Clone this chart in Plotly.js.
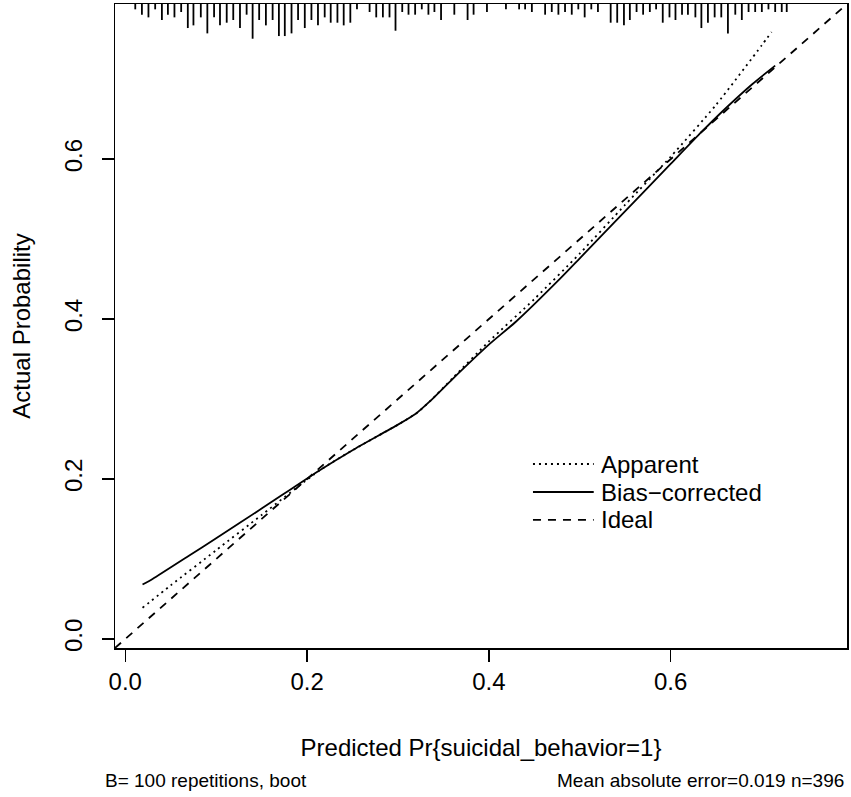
<!DOCTYPE html>
<html>
<head>
<meta charset="utf-8">
<script src="https://cdn.plot.ly/plotly-3.0.1.min.js"></script>
<style>html,body{margin:0;padding:0;background:#fff;}</style>
</head>
<body>
<div id="chart" style="width:851px;height:797px;"></div>
<script>
// ---- data ----
const axisRange = [-0.0113, 0.794];

const apparentX = [0.019, 0.05, 0.10, 0.15, 0.214, 0.25, 0.30, 0.32, 0.335, 0.36, 0.40, 0.45, 0.50, 0.55, 0.60, 0.65, 0.70, 0.711];
const apparentY = [0.039, 0.067, 0.111, 0.155, 0.211, 0.236, 0.268, 0.282, 0.297, 0.326, 0.372, 0.425, 0.482, 0.543, 0.603, 0.668, 0.742, 0.759];

const biasX = [0.019, 0.03, 0.07, 0.10, 0.15, 0.214, 0.25, 0.30, 0.32, 0.335, 0.36, 0.40, 0.43, 0.477, 0.50, 0.55, 0.60, 0.634, 0.66, 0.69, 0.715];
const biasY = [0.068, 0.075, 0.104, 0.126, 0.163, 0.211, 0.236, 0.268, 0.282, 0.297, 0.325, 0.368, 0.397, 0.449, 0.476, 0.535, 0.594, 0.634, 0.663, 0.694, 0.717];

// rug: predicted-value positions and their frequencies
const rugX = [0.0110,0.0183,0.0255,0.0329,0.0403,0.0469,0.0541,0.0615,0.0688,0.0750,0.0831,0.0903,0.0977,0.1042,0.1116,0.1188,0.1262,0.1335,0.1401,0.1473,0.1547,0.1621,0.1690,0.1755,0.1829,0.1901,0.1975,0.2048,0.2120,0.2194,
  0.2260,0.2334,0.2403,0.2476,0.2549,0.2688,0.2761,0.2834,0.2907,0.2973,0.3047,0.3116,0.3189,0.3262,0.3335,0.3401,0.3474,0.3620,0.3766,0.3832,0.3979,0.4188,0.4333,
  0.4399,0.4473,0.4619,0.4692,0.4765,0.4838,0.4912,0.4984,0.5054,0.5127,0.5200,0.5340,0.5412,0.5486,0.5551,0.5625,0.5697,0.5771,0.5840,0.5913,0.5987,0.6053,0.6125,0.6190,0.6272,0.6338,0.6410,0.6484,0.6557,0.6630,
  0.6711,0.6783,0.6857,0.6930,0.7003,0.7076,0.7150,0.7222,0.7277];
const rugFreq = [2,4,5,2,6,4,5,3,9,8,5,11,5,8,7,6,9,4,13,6,8,6,12,12,11,6,9,6,8,5,
  7,7,8,7,2,3,5,5,5,10,3,4,4,2,4,3,6,4,6,4,3,2,2,
  2,3,4,3,4,3,4,2,5,2,3,7,7,8,6,3,4,3,2,7,5,6,4,4,5,9,7,5,5,11,
  4,6,3,3,3,2,3,3,3];

const xTicks = [0, 0.2, 0.4, 0.6];
const xTickText = ['0.0', '0.2', '0.4', '0.6'];
const yTicks = [0, 0.2, 0.4, 0.6];
const yTickText = ['0.0', '0.2', '0.4', '0.6'];

const legendNames = ['Apparent', 'Bias\u2212corrected', 'Ideal'];

// ---- build ----
const FONT = 'Liberation Sans, Arial, Helvetica, sans-serif';
const DOT = '2px,4px';
const DASH = '8px,7px';
const LW = 1.8;

const rugUnit = 0.00334;
const rugXs = [], rugYs = [];
for (let i = 0; i < rugX.length; i++) {
  rugXs.push(rugX[i], rugX[i], null);
  rugYs.push(axisRange[1], axisRange[1] - rugFreq[i] * rugUnit, null);
}

const traces = [
  {x: apparentX, y: apparentY, mode: 'lines', line: {color: '#000', width: LW, dash: DOT, shape: 'spline', smoothing: 0.6}, name: legendNames[0], hoverinfo: 'x+y'},
  {x: biasX, y: biasY, mode: 'lines', line: {color: '#000', width: LW, shape: 'spline', smoothing: 0.6}, name: legendNames[1], hoverinfo: 'x+y'},
  {x: axisRange, y: axisRange, mode: 'lines', line: {color: '#000', width: LW, dash: DASH}, name: legendNames[2], hoverinfo: 'skip'},
  {x: rugXs, y: rugYs, mode: 'lines', line: {color: '#000', width: 1.8}, hoverinfo: 'skip', name: 'rug'}
];

// manual legend (R style)
const legX0 = 0.571, legX1 = 0.654, legTx = 0.6615;
const legY = [0.2857, 0.2422, 0.1988];
const legDash = [DOT, 'solid', DASH];
const shapes = [], annotations = [];
for (let i = 0; i < 3; i++) {
  shapes.push({type: 'line', xref: 'paper', yref: 'paper', x0: legX0, x1: legX1, y0: legY[i], y1: legY[i],
    line: {color: '#000', width: LW, dash: legDash[i]}});
  annotations.push({xref: 'paper', yref: 'paper', x: legTx, y: legY[i], xanchor: 'left', yanchor: 'middle',
    text: legendNames[i], showarrow: false, font: {family: FONT, size: 24, color: '#000'}});
}
annotations.push({xref: 'paper', yref: 'paper', x: -0.0164, y: -0.205, xanchor: 'left', yanchor: 'middle',
  text: 'B= 100 repetitions, boot', showarrow: false, font: {family: FONT, size: 19, color: '#000'}});
annotations.push({xref: 'paper', yref: 'paper', x: 0.9986, y: -0.205, xanchor: 'right', yanchor: 'middle',
  text: 'Mean absolute error=0.019 n=396', showarrow: false, font: {family: FONT, size: 19, color: '#000'}});

const axisCommon = {
  range: axisRange, showgrid: false, zeroline: false, showline: true, mirror: true,
  linecolor: '#000', linewidth: 1.5, ticks: 'outside', ticklen: 12, tickwidth: 1.5, tickcolor: '#000',
  tickfont: {family: FONT, size: 24, color: '#000'}, fixedrange: true
};

const layout = {
  width: 851, height: 797,
  margin: {l: 115, r: 4, t: 4, b: 149},
  paper_bgcolor: '#fff', plot_bgcolor: '#fff',
  showlegend: false,
  font: {family: FONT, color: '#000'},
  xaxis: Object.assign({}, axisCommon, {
    tickvals: xTicks, ticktext: xTickText,
    title: {text: 'Predicted Pr{suicidal_behavior=1}', font: {family: FONT, size: 24, color: '#000'}, standoff: 45}
  }),
  yaxis: Object.assign({}, axisCommon, {
    tickvals: yTicks, ticktext: yTickText, tickangle: -90, ticklabelstandoff: 10,
    title: {text: 'Actual Probability', font: {family: FONT, size: 24, color: '#000'}, standoff: 22}
  }),
  shapes: shapes,
  annotations: annotations
};

Plotly.newPlot('chart', traces, layout, {displayModeBar: false, staticPlot: true});
</script>
</body>
</html>
